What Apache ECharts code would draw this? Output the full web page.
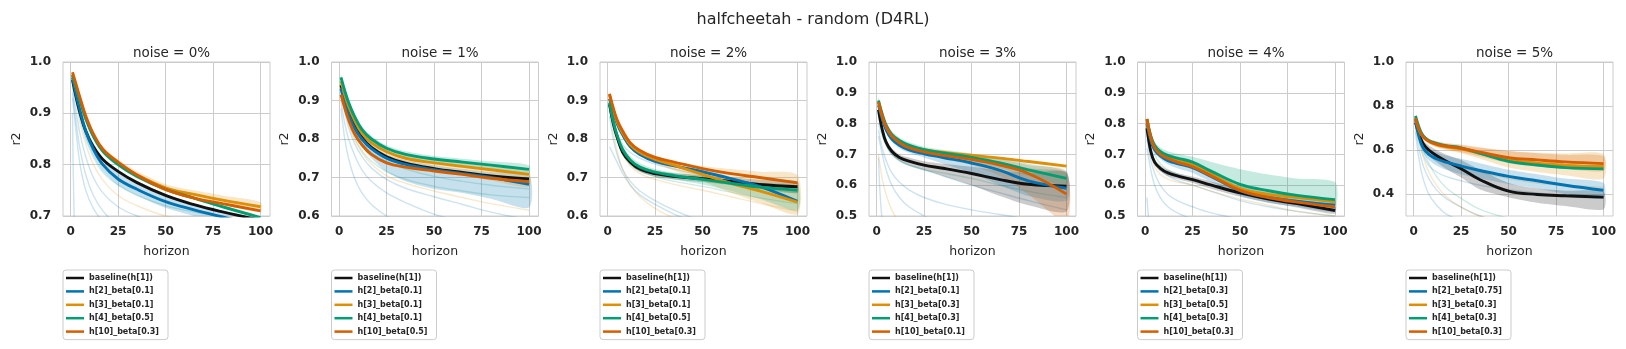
<!DOCTYPE html>
<html lang="en">
<head>
<meta charset="UTF-8">
<title>halfcheetah - random (D4RL)</title>
<style>
  html, body { margin: 0; padding: 0; background: #fff; }
  #chart { width: 1626px; height: 349px; }
</style>
</head>
<body>
<div id="chart"></div>
<script src="https://cdn.jsdelivr.net/npm/echarts@6/dist/echarts.min.js"></script>
<script>
const X = [1, 3, 5, 8, 12, 17, 25, 35, 50, 65, 80, 100];

// ---- noise = 0%
const n0Names = ['baseline(h[1])', 'h[2]_beta[0.1]', 'h[3]_beta[0.1]', 'h[4]_beta[0.5]', 'h[10]_beta[0.3]'];
const n0Base = [0.965, 0.93, 0.9, 0.865, 0.835, 0.81, 0.787, 0.765, 0.74, 0.722, 0.708, 0.692];
const n0H2 = [0.97, 0.935, 0.905, 0.865, 0.83, 0.8, 0.772, 0.752, 0.728, 0.712, 0.698, 0.68];
const n0H3 = [0.975, 0.95, 0.925, 0.89, 0.857, 0.828, 0.803, 0.78, 0.755, 0.742, 0.731, 0.718];
const n0H4 = [0.975, 0.95, 0.925, 0.89, 0.855, 0.826, 0.8, 0.777, 0.752, 0.735, 0.718, 0.697];
const n0H10 = [0.98, 0.955, 0.93, 0.895, 0.86, 0.83, 0.805, 0.78, 0.752, 0.735, 0.724, 0.71];
const n0H2Lo = [0.96, 0.925, 0.893, 0.852, 0.817, 0.787, 0.76, 0.74, 0.716, 0.7, 0.686, 0.668];
const n0H2Hi = [0.98, 0.945, 0.915, 0.877, 0.842, 0.812, 0.785, 0.764, 0.74, 0.724, 0.71, 0.692];
const n0H3Lo = [0.97, 0.944, 0.918, 0.883, 0.85, 0.821, 0.796, 0.773, 0.748, 0.734, 0.722, 0.708];
const n0H3Hi = [0.98, 0.956, 0.932, 0.897, 0.864, 0.835, 0.81, 0.787, 0.762, 0.75, 0.74, 0.727];
const n0FaintB1 = [0.95, 0.9, 0.86, 0.815, 0.775, 0.745, 0.718, 0.7, 0.682, 0.67, 0.66, 0.65];
const n0FaintB2 = [0.94, 0.88, 0.83, 0.78, 0.74, 0.71, 0.68, 0.655, 0.63, 0.61, 0.6, 0.59];
const n0FaintB3 = [0.93, 0.86, 0.8, 0.75, 0.715, 0.69, 0.67, 0.65, 0.63, 0.62, 0.61, 0.6];
const n0FaintB4 = [0.9, 0.55, 0.5, 0.45, 0.42, 0.4, 0.38, 0.36, 0.34, 0.32, 0.3, 0.28];
const n0FaintO1 = [0.96, 0.92, 0.88, 0.84, 0.8, 0.77, 0.74, 0.72, 0.7, 0.69, 0.68, 0.67];
const n0FaintG1 = [0.96, 0.925, 0.89, 0.85, 0.815, 0.785, 0.76, 0.74, 0.72, 0.708, 0.698, 0.69];

// ---- noise = 1%
const n1Names = ['baseline(h[1])', 'h[2]_beta[0.1]', 'h[3]_beta[0.1]', 'h[4]_beta[0.1]', 'h[10]_beta[0.5]'];
const n1Base = [0.94, 0.905, 0.875, 0.84, 0.805, 0.778, 0.754, 0.737, 0.723, 0.713, 0.704, 0.696];
const n1H2 = [0.93, 0.895, 0.865, 0.83, 0.8, 0.775, 0.75, 0.734, 0.72, 0.71, 0.7, 0.682];
const n1H3 = [0.95, 0.915, 0.885, 0.85, 0.815, 0.79, 0.767, 0.75, 0.738, 0.729, 0.72, 0.708];
const n1H4 = [0.96, 0.925, 0.895, 0.86, 0.825, 0.8, 0.776, 0.76, 0.748, 0.74, 0.732, 0.721];
const n1H10 = [0.915, 0.88, 0.85, 0.815, 0.785, 0.76, 0.738, 0.727, 0.717, 0.708, 0.698, 0.689];
const n1H2Lo = [0.92, 0.88, 0.85, 0.81, 0.78, 0.75, 0.715, 0.69, 0.67, 0.66, 0.645, 0.622];
const n1H2Hi = [0.94, 0.905, 0.875, 0.84, 0.81, 0.785, 0.76, 0.745, 0.732, 0.722, 0.714, 0.705];
const n1H3Lo = [0.94, 0.905, 0.875, 0.84, 0.805, 0.78, 0.755, 0.735, 0.718, 0.705, 0.692, 0.675];
const n1H3Hi = [0.958, 0.923, 0.893, 0.858, 0.823, 0.798, 0.775, 0.758, 0.746, 0.737, 0.728, 0.716];
const n1H4Lo = [0.952, 0.917, 0.887, 0.852, 0.817, 0.792, 0.768, 0.752, 0.74, 0.731, 0.722, 0.71];
const n1H4Hi = [0.968, 0.933, 0.903, 0.868, 0.833, 0.808, 0.784, 0.768, 0.756, 0.749, 0.742, 0.732];
const n1FaintB1 = [0.9, 0.84, 0.8, 0.76, 0.72, 0.69, 0.66, 0.635, 0.605, 0.585, 0.565, 0.545];
const n1FaintB2 = [0.88, 0.8, 0.75, 0.7, 0.66, 0.63, 0.6, 0.575, 0.55, 0.53, 0.52, 0.5];
const n1FaintB3 = [0.92, 0.87, 0.83, 0.79, 0.755, 0.725, 0.695, 0.672, 0.65, 0.63, 0.61, 0.59];
const n1FaintO1 = [0.93, 0.88, 0.84, 0.8, 0.765, 0.735, 0.705, 0.685, 0.665, 0.648, 0.632, 0.615];
const n1FaintG1 = [0.94, 0.9, 0.865, 0.825, 0.79, 0.765, 0.742, 0.722, 0.703, 0.69, 0.68, 0.67];
const n1FaintG2 = [0.93, 0.885, 0.845, 0.805, 0.77, 0.742, 0.715, 0.695, 0.677, 0.665, 0.655, 0.648];

// ---- noise = 2%
const n2Names = ['baseline(h[1])', 'h[2]_beta[0.1]', 'h[3]_beta[0.1]', 'h[4]_beta[0.5]', 'h[10]_beta[0.3]'];
const n2Base = [0.89, 0.84, 0.805, 0.765, 0.74, 0.722, 0.71, 0.703, 0.697, 0.69, 0.682, 0.676];
const n2H2 = [0.905, 0.87, 0.84, 0.81, 0.78, 0.76, 0.742, 0.73, 0.715, 0.697, 0.677, 0.638];
const n2H3 = [0.915, 0.875, 0.845, 0.815, 0.785, 0.765, 0.747, 0.732, 0.708, 0.685, 0.665, 0.636];
const n2H4 = [0.895, 0.845, 0.81, 0.772, 0.745, 0.727, 0.714, 0.705, 0.695, 0.685, 0.675, 0.667];
const n2H10 = [0.917, 0.88, 0.85, 0.82, 0.79, 0.77, 0.752, 0.74, 0.723, 0.71, 0.7, 0.686];
const n2BaseLo = [0.882, 0.832, 0.797, 0.757, 0.732, 0.714, 0.702, 0.695, 0.688, 0.68, 0.67, 0.66];
const n2BaseHi = [0.898, 0.848, 0.813, 0.773, 0.748, 0.73, 0.718, 0.711, 0.706, 0.7, 0.694, 0.69];
const n2H3Lo = [0.905, 0.865, 0.835, 0.805, 0.775, 0.755, 0.737, 0.718, 0.69, 0.66, 0.635, 0.605];
const n2H3Hi = [0.925, 0.885, 0.855, 0.825, 0.795, 0.775, 0.757, 0.742, 0.73, 0.722, 0.715, 0.706];
const n2H4Lo = [0.885, 0.835, 0.8, 0.762, 0.735, 0.717, 0.704, 0.695, 0.682, 0.665, 0.645, 0.615];
const n2H4Hi = [0.905, 0.855, 0.82, 0.782, 0.755, 0.737, 0.722, 0.713, 0.703, 0.694, 0.685, 0.677];
const n2FaintB1 = [0.78, 0.76, 0.74, 0.71, 0.68, 0.655, 0.63, 0.605, 0.575, 0.55, 0.53, 0.51];
const n2FaintB2 = [0.86, 0.8, 0.76, 0.72, 0.69, 0.665, 0.64, 0.615, 0.585, 0.56, 0.54, 0.52];
const n2FaintB3 = [0.9, 0.85, 0.815, 0.785, 0.765, 0.75, 0.735, 0.722, 0.705, 0.69, 0.675, 0.66];
const n2FaintO1 = [0.88, 0.82, 0.77, 0.72, 0.68, 0.65, 0.62, 0.595, 0.57, 0.55, 0.53, 0.51];
const n2FaintO2 = [0.89, 0.84, 0.8, 0.76, 0.73, 0.71, 0.695, 0.682, 0.667, 0.65, 0.633, 0.612];
const n2FaintG1 = [0.89, 0.84, 0.8, 0.765, 0.737, 0.717, 0.702, 0.69, 0.677, 0.662, 0.647, 0.632];

// ---- noise = 3%
const n3Names = ['baseline(h[1])', 'h[2]_beta[0.1]', 'h[3]_beta[0.3]', 'h[4]_beta[0.3]', 'h[10]_beta[0.1]'];
const n3Base = [0.845, 0.78, 0.74, 0.71, 0.69, 0.678, 0.665, 0.655, 0.638, 0.618, 0.603, 0.597];
const n3H2 = [0.86, 0.815, 0.78, 0.75, 0.73, 0.715, 0.702, 0.69, 0.672, 0.648, 0.614, 0.59];
const n3H3 = [0.87, 0.825, 0.79, 0.76, 0.74, 0.727, 0.715, 0.707, 0.697, 0.688, 0.677, 0.662];
const n3H4 = [0.875, 0.83, 0.795, 0.765, 0.745, 0.73, 0.715, 0.705, 0.69, 0.672, 0.65, 0.622];
const n3H10 = [0.87, 0.825, 0.79, 0.76, 0.738, 0.722, 0.708, 0.697, 0.684, 0.665, 0.638, 0.571];
const n3BaseLo = [0.835, 0.77, 0.73, 0.7, 0.68, 0.665, 0.65, 0.63, 0.6, 0.565, 0.535, 0.515];
const n3BaseHi = [0.855, 0.79, 0.75, 0.72, 0.7, 0.69, 0.678, 0.67, 0.66, 0.648, 0.64, 0.64];
const n3H2Lo = [0.85, 0.805, 0.77, 0.74, 0.72, 0.705, 0.69, 0.67, 0.64, 0.6, 0.565, 0.55];
const n3H2Hi = [0.87, 0.825, 0.79, 0.76, 0.74, 0.725, 0.712, 0.702, 0.69, 0.675, 0.655, 0.64];
const n3H4Lo = [0.865, 0.82, 0.785, 0.755, 0.735, 0.72, 0.705, 0.693, 0.675, 0.655, 0.63, 0.6];
const n3H4Hi = [0.885, 0.84, 0.805, 0.775, 0.755, 0.74, 0.725, 0.715, 0.703, 0.688, 0.67, 0.645];
const n3H10Lo = [0.86, 0.815, 0.78, 0.75, 0.728, 0.712, 0.698, 0.685, 0.665, 0.63, 0.57, 0.48];
const n3H10Hi = [0.88, 0.835, 0.8, 0.77, 0.748, 0.732, 0.718, 0.708, 0.698, 0.685, 0.665, 0.645];
const n3FaintB1 = [0.78, 0.72, 0.68, 0.64, 0.61, 0.585, 0.56, 0.54, 0.52, 0.505, 0.49, 0.48];
const n3FaintB2 = [0.76, 0.7, 0.65, 0.6, 0.56, 0.53, 0.5, 0.47, 0.44, 0.42, 0.4, 0.38];
const n3FaintB3 = [0.8, 0.76, 0.73, 0.7, 0.68, 0.665, 0.65, 0.63, 0.6, 0.575, 0.55, 0.52];
const n3FaintB4 = [0.69, 0.48, 0.45, 0.42, 0.4, 0.38, 0.36, 0.34, 0.32, 0.3, 0.28, 0.26];
const n3FaintO1 = [0.7, 0.62, 0.57, 0.52, 0.48, 0.45, 0.42, 0.4, 0.38, 0.36, 0.35, 0.34];
const n3FaintG1 = [0.82, 0.77, 0.73, 0.7, 0.68, 0.665, 0.65, 0.64, 0.622, 0.6, 0.58, 0.56];

// ---- noise = 4%
const n4Names = ['baseline(h[1])', 'h[2]_beta[0.3]', 'h[3]_beta[0.5]', 'h[4]_beta[0.3]', 'h[10]_beta[0.3]'];
const n4Base = [0.785, 0.71, 0.675, 0.655, 0.64, 0.63, 0.618, 0.6, 0.575, 0.555, 0.54, 0.518];
const n4H2 = [0.8, 0.745, 0.715, 0.695, 0.68, 0.67, 0.657, 0.628, 0.582, 0.56, 0.548, 0.535];
const n4H3 = [0.81, 0.755, 0.725, 0.705, 0.69, 0.68, 0.666, 0.635, 0.59, 0.57, 0.56, 0.546];
const n4H4 = [0.815, 0.76, 0.73, 0.71, 0.697, 0.688, 0.675, 0.645, 0.603, 0.582, 0.567, 0.553];
const n4H10 = [0.815, 0.755, 0.722, 0.7, 0.687, 0.675, 0.66, 0.63, 0.583, 0.56, 0.545, 0.53];
const n4BaseLo = [0.775, 0.7, 0.665, 0.645, 0.63, 0.62, 0.607, 0.588, 0.563, 0.543, 0.528, 0.507];
const n4BaseHi = [0.795, 0.72, 0.685, 0.665, 0.65, 0.64, 0.628, 0.612, 0.587, 0.567, 0.552, 0.53];
const n4H2Lo = [0.79, 0.735, 0.705, 0.685, 0.668, 0.655, 0.64, 0.61, 0.565, 0.543, 0.53, 0.515];
const n4H2Hi = [0.81, 0.755, 0.725, 0.705, 0.692, 0.682, 0.67, 0.643, 0.598, 0.577, 0.565, 0.553];
const n4H4Lo = [0.805, 0.75, 0.72, 0.7, 0.687, 0.675, 0.66, 0.625, 0.582, 0.56, 0.547, 0.535];
const n4H4Hi = [0.825, 0.77, 0.74, 0.722, 0.71, 0.702, 0.692, 0.675, 0.652, 0.635, 0.622, 0.61];
const n4FaintB1 = [0.75, 0.68, 0.64, 0.6, 0.57, 0.55, 0.53, 0.51, 0.49, 0.475, 0.46, 0.45];
const n4FaintB2 = [0.72, 0.65, 0.6, 0.56, 0.53, 0.51, 0.49, 0.47, 0.45, 0.43, 0.42, 0.41];
const n4FaintB3 = [0.78, 0.72, 0.68, 0.65, 0.63, 0.615, 0.6, 0.58, 0.55, 0.53, 0.515, 0.5];
const n4FaintB4 = [0.56, 0.44, 0.42, 0.4, 0.38, 0.36, 0.34, 0.32, 0.3, 0.28, 0.26, 0.25];
const n4FaintO1 = [0.78, 0.7, 0.66, 0.635, 0.62, 0.61, 0.6, 0.58, 0.555, 0.535, 0.515, 0.5];
const n4FaintG1 = [0.8, 0.74, 0.7, 0.67, 0.65, 0.635, 0.62, 0.6, 0.58, 0.565, 0.55, 0.54];

// ---- noise = 5%
const n5Names = ['baseline(h[1])', 'h[2]_beta[0.75]', 'h[3]_beta[0.3]', 'h[4]_beta[0.3]', 'h[10]_beta[0.3]'];
const n5Base = [0.725, 0.67, 0.63, 0.6, 0.575, 0.55, 0.515, 0.465, 0.413, 0.398, 0.392, 0.386];
const n5H2 = [0.74, 0.655, 0.61, 0.58, 0.56, 0.545, 0.527, 0.507, 0.48, 0.46, 0.44, 0.417];
const n5H3 = [0.745, 0.69, 0.66, 0.64, 0.625, 0.615, 0.605, 0.585, 0.555, 0.54, 0.53, 0.525];
const n5H4 = [0.755, 0.7, 0.665, 0.643, 0.63, 0.62, 0.61, 0.585, 0.548, 0.532, 0.52, 0.514];
const n5H10 = [0.745, 0.69, 0.66, 0.64, 0.627, 0.618, 0.608, 0.59, 0.565, 0.555, 0.546, 0.538];
const n5BaseLo = [0.715, 0.655, 0.61, 0.575, 0.545, 0.515, 0.475, 0.42, 0.385, 0.36, 0.345, 0.33];
const n5BaseHi = [0.735, 0.68, 0.645, 0.62, 0.6, 0.58, 0.555, 0.51, 0.45, 0.425, 0.415, 0.41];
const n5H2Lo = [0.73, 0.64, 0.59, 0.555, 0.53, 0.51, 0.49, 0.47, 0.445, 0.425, 0.4, 0.38];
const n5H2Hi = [0.75, 0.67, 0.63, 0.605, 0.59, 0.575, 0.56, 0.54, 0.51, 0.49, 0.47, 0.45];
const n5H3Lo = [0.735, 0.68, 0.65, 0.63, 0.612, 0.6, 0.585, 0.56, 0.52, 0.5, 0.485, 0.47];
const n5H3Hi = [0.755, 0.7, 0.67, 0.65, 0.64, 0.63, 0.622, 0.61, 0.595, 0.588, 0.584, 0.582];
const n5H10Lo = [0.735, 0.68, 0.65, 0.63, 0.615, 0.605, 0.59, 0.57, 0.54, 0.525, 0.515, 0.505];
const n5H10Hi = [0.755, 0.7, 0.67, 0.65, 0.64, 0.632, 0.625, 0.612, 0.595, 0.585, 0.578, 0.572];
const n5FaintB1 = [0.7, 0.6, 0.53, 0.47, 0.42, 0.38, 0.34, 0.3, 0.26, 0.24, 0.22, 0.2];
const n5FaintB2 = [0.68, 0.55, 0.47, 0.4, 0.35, 0.31, 0.28, 0.25, 0.22, 0.2, 0.19, 0.18];
const n5FaintB3 = [0.72, 0.64, 0.58, 0.53, 0.5, 0.48, 0.46, 0.44, 0.42, 0.405, 0.39, 0.38];
const n5FaintO1 = [0.7, 0.63, 0.57, 0.5, 0.44, 0.39, 0.34, 0.3, 0.27, 0.25, 0.24, 0.23];
const n5FaintO2 = [0.72, 0.65, 0.61, 0.58, 0.56, 0.545, 0.525, 0.5, 0.47, 0.45, 0.44, 0.43];
const n5FaintG1 = [0.73, 0.66, 0.6, 0.54, 0.48, 0.43, 0.38, 0.33, 0.29, 0.27, 0.25, 0.24];

// colour index: 0 baseline, 1 h2, 2 h3, 3 h4, 4 h10
const COLORS = ['#111111', '#0173b2', '#de8f05', '#029e73', '#d55e00'];
const FONT = 'DejaVu Sans';
const TXT = '#262626';

const panels = [
  { title: 'noise = 0%', ymin: 0.7, labelStep: 1, names: n0Names,
    means: [n0Base, n0H2, n0H3, n0H4, n0H10],
    bands: [[1, n0H2Lo, n0H2Hi], [2, n0H3Lo, n0H3Hi]],
    faint: [[1, n0FaintB1], [1, n0FaintB2], [1, n0FaintB3], [1, n0FaintB4], [2, n0FaintO1], [3, n0FaintG1]] },
  { title: 'noise = 1%', ymin: 0.6, labelStep: 1, names: n1Names,
    means: [n1Base, n1H2, n1H3, n1H4, n1H10],
    bands: [[1, n1H2Lo, n1H2Hi], [2, n1H3Lo, n1H3Hi], [3, n1H4Lo, n1H4Hi]],
    faint: [[1, n1FaintB1], [1, n1FaintB2], [1, n1FaintB3], [2, n1FaintO1], [3, n1FaintG1], [3, n1FaintG2]] },
  { title: 'noise = 2%', ymin: 0.6, labelStep: 1, names: n2Names,
    means: [n2Base, n2H2, n2H3, n2H4, n2H10],
    bands: [[0, n2BaseLo, n2BaseHi], [2, n2H3Lo, n2H3Hi], [3, n2H4Lo, n2H4Hi]],
    faint: [[1, n2FaintB1], [1, n2FaintB2], [1, n2FaintB3], [2, n2FaintO1], [2, n2FaintO2], [3, n2FaintG1]] },
  { title: 'noise = 3%', ymin: 0.5, labelStep: 1, names: n3Names,
    means: [n3Base, n3H2, n3H3, n3H4, n3H10],
    bands: [[0, n3BaseLo, n3BaseHi], [1, n3H2Lo, n3H2Hi], [3, n3H4Lo, n3H4Hi], [4, n3H10Lo, n3H10Hi]],
    faint: [[1, n3FaintB1], [1, n3FaintB2], [1, n3FaintB3], [1, n3FaintB4], [2, n3FaintO1], [3, n3FaintG1]] },
  { title: 'noise = 4%', ymin: 0.5, labelStep: 1, names: n4Names,
    means: [n4Base, n4H2, n4H3, n4H4, n4H10],
    bands: [[0, n4BaseLo, n4BaseHi], [1, n4H2Lo, n4H2Hi], [3, n4H4Lo, n4H4Hi]],
    faint: [[1, n4FaintB1], [1, n4FaintB2], [1, n4FaintB3], [1, n4FaintB4], [2, n4FaintO1], [3, n4FaintG1]] },
  { title: 'noise = 5%', ymin: 0.3, labelStep: 2, names: n5Names,
    means: [n5Base, n5H2, n5H3, n5H4, n5H10],
    bands: [[0, n5BaseLo, n5BaseHi], [1, n5H2Lo, n5H2Hi], [2, n5H3Lo, n5H3Hi], [4, n5H10Lo, n5H10Hi]],
    faint: [[1, n5FaintB1], [1, n5FaintB2], [1, n5FaintB3], [2, n5FaintO1], [2, n5FaintO2], [3, n5FaintG1]] }
];

const GRID_LEFT = [63, 331.5, 600, 869, 1137.5, 1406];
const GRID_W = 207, GRID_TOP = 62, GRID_H = 154;

function pts(arr) {
  return X.map((x, i) => [x, arr[i]]);
}

// x ticks every 1 from -4, only every 25th is drawn / labelled
const xSplitColors = [];
for (let i = 0; i < 25; i++) xSplitColors.push(i === 4 ? '#cccccc' : 'rgba(0,0,0,0)');

const grids = [], xAxes = [], yAxes = [], legends = [], series = [];
const titles = [{
  text: 'halfcheetah - random (D4RL)', left: 'center', top: 7,
  textStyle: { fontFamily: FONT, fontSize: 16, fontWeight: 'normal', color: TXT }
}];

panels.forEach((p, g) => {
  const left = GRID_LEFT[g];
  grids.push({ left: left, top: GRID_TOP, width: GRID_W, height: GRID_H,
    show: true, borderColor: '#cccccc', borderWidth: 1, backgroundColor: '#ffffff',
    containLabel: false, outerBoundsMode: 'none' });
  titles.push({ text: p.title, left: left + GRID_W / 2, textAlign: 'center', top: 41,
    textStyle: { fontFamily: FONT, fontSize: 13.5, fontWeight: 'normal', color: TXT } });

  xAxes.push({
    type: 'value', gridIndex: g, min: -4, max: 105, interval: 1,
    name: 'horizon', nameLocation: 'middle', nameGap: 29,
    nameTextStyle: { fontFamily: FONT, fontSize: 12.5, color: TXT },
    axisLine: { show: false }, axisTick: { show: false },
    axisLabel: { margin: 10, fontFamily: FONT, fontSize: 12, fontWeight: 'bold', color: TXT,
      formatter: v => (Math.round(v) % 25 === 0 ? String(Math.round(v)) : '') },
    splitLine: { show: true, lineStyle: { color: xSplitColors, width: 1 } }
  });

  const ySplit = p.labelStep === 2 ? ['rgba(0,0,0,0)', '#cccccc'] : '#cccccc';
  yAxes.push({
    type: 'value', gridIndex: g, min: p.ymin, max: 1.0, interval: 0.1,
    name: 'r2', nameLocation: 'middle', nameGap: 40,
    nameTextStyle: { fontFamily: FONT, fontSize: 12.5, color: TXT },
    axisLine: { show: false }, axisTick: { show: false },
    axisLabel: { margin: 12, fontFamily: FONT, fontSize: 12, fontWeight: 'bold', color: TXT,
      formatter: v => (Math.round(v * 10) % p.labelStep === 0 ? v.toFixed(1) : '') },
    splitLine: { show: true, lineStyle: { color: ySplit, width: 1 } }
  });

  // faint individual runs
  p.faint.forEach(([c, arr]) => {
    series.push({
      type: 'line', xAxisIndex: g, yAxisIndex: g, data: pts(arr), z: 1,
      symbol: 'none', smooth: 0.4, silent: true,
      lineStyle: { color: COLORS[c], width: 1.4, opacity: 0.2 }
    });
  });

  // confidence bands drawn as polygons through the axis scales
  p.bands.forEach(([c, lo, hi]) => {
    series.push({
      type: 'custom', xAxisIndex: g, yAxisIndex: g, z: 2, silent: true, clip: true,
      data: [[X[0], hi[0]]],
      renderItem: (params, api) => {
        const up = X.map((x, i) => api.coord([x, hi[i]]));
        const dn = X.map((x, i) => api.coord([x, lo[i]])).reverse();
        return {
          type: 'polygon',
          shape: { points: up.concat(dn), smooth: 0.25 },
          style: { fill: COLORS[c], opacity: 0.22 }
        };
      }
    });
  });

  // mean curves
  p.means.forEach((arr, c) => {
    series.push({
      name: p.names[c], type: 'line', xAxisIndex: g, yAxisIndex: g, data: pts(arr), z: 3,
      color: COLORS[c], symbol: 'none', smooth: 0.4,
      lineStyle: { color: COLORS[c], width: 2.9 }
    });
  });

  legends.push({
    orient: 'vertical', left: left, top: 270, data: p.names, selectedMode: false,
    icon: 'rect', itemWidth: 18, itemHeight: 2.5, itemGap: 3.4, padding: [3, 9, 3, 3],
    itemStyle: { borderWidth: 0 },
    borderColor: '#cccccc', borderWidth: 1, borderRadius: 3, backgroundColor: '#ffffff',
    textStyle: { fontFamily: FONT, fontSize: 8, fontWeight: 'bold', color: TXT, lineHeight: 10 }
  });
});

const chart = echarts.init(document.getElementById('chart'));
chart.setOption({
  animation: false,
  backgroundColor: '#ffffff',
  textStyle: { fontFamily: FONT },
  title: titles,
  grid: grids,
  xAxis: xAxes,
  yAxis: yAxes,
  legend: legends,
  series: series
});
</script>
</body>
</html>
